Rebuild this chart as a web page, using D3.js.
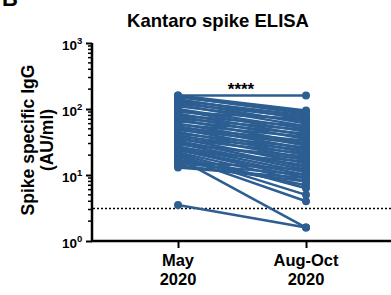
<!DOCTYPE html>
<html>
<head>
<meta charset="utf-8">
<script src="https://cdn.jsdelivr.net/npm/d3@7"></script>
<style>
  body { margin: 0; background: #fff; }
  text { font-family: "Liberation Sans", Arial, sans-serif; font-weight: bold; }
</style>
</head>
<body>
<div id="container"></div>
<script>
// time points on the x axis
var timepoints = ["May 2020", "Aug-Oct 2020"];
// paired samples, May value and Aug-Oct value (AU/ml)
var mayValues = [160, 160, 155, 150, 140, 135, 130, 120, 115, 110, 100, 95, 90, 85, 80, 78, 72, 70, 65, 60,
                 58, 55, 52, 50, 48, 45, 42, 40, 38, 36, 35, 33, 31, 30, 29, 27, 26, 25, 24, 23,
                 22, 21, 20, 19, 18, 17, 16, 15, 14, 13, 3.5];
var augValues = [160, 95, 85, 90, 70, 80, 60, 75, 55, 65, 50, 45, 70, 40, 55, 35, 48, 30, 42, 28,
                 38, 25, 33, 22, 30, 20, 26, 18, 24, 15, 21, 13, 17, 12, 19, 11, 14, 10, 9, 16,
                 8, 6.3, 5, 4, 1.6, 7, 12, 10, 8, 9, 1.6];
var yTicks = [1, 10, 100, 1000];
var cutoff = 3.1;

var width = 391, height = 295;
var blue = "#2c5e92";

var svg = d3.select("#container").append("svg")
    .attr("width", width)
    .attr("height", height);

//scales
var x = d3.scaleLinear().domain([-0.672, 1.664]).range([92, 391]);
var y = d3.scaleLog().domain([1, 1000]).range([241, 43]);

//panel letter and title
svg.append("text").attr("x", 2).attr("y", 6).style("font-size", "22px").text("B");
svg.append("text").attr("x", 218).attr("y", 27).attr("text-anchor", "middle")
    .style("font-size", "18.5px").text("Kantaro spike ELISA");

//y axis label
var yl = svg.append("text").attr("transform", "translate(34,140) rotate(-90)")
    .attr("text-anchor", "middle").style("font-size", "17.5px");
yl.append("tspan").attr("x", 0).attr("dy", 0).text("Spike specific IgG");
yl.append("tspan").attr("x", 0).attr("dy", 19).text("(AU/ml)");

//minor ticks on log axis
var minor = [];
for (var d = 1; d < 1000; d *= 10) {
    for (var k = 2; k <= 9; k++) minor.push(d * k);
}
svg.selectAll(".minor").data(minor).enter().append("line")
    .attr("class", "minor")
    .attr("x1", 88).attr("x2", 92)
    .attr("y1", function(d){ return y(d); })
    .attr("y2", function(d){ return y(d); })
    .attr("stroke", "#000").attr("stroke-width", 1.5);

//y axis
var yAxis = svg.append("g").attr("transform", "translate(92,0)")
    .call(d3.axisLeft(y).tickValues(yTicks).tickSize(6).tickFormat(""));
yAxis.select(".domain").attr("stroke-width", 2.5).attr("d", "M0," + y(1000) + "V" + (y(1) + 1));
yAxis.selectAll(".tick line").attr("stroke-width", 2);

svg.selectAll(".ylab").data(yTicks).enter().append("text")
    .attr("class", "ylab")
    .attr("x", 77).attr("y", function(d){ return y(d) + 7; })
    .attr("text-anchor", "end").style("font-size", "13.5px")
    .text("10");
svg.selectAll(".ysup").data(yTicks).enter().append("text")
    .attr("x", 77).attr("y", function(d){ return y(d) + 1; })
    .style("font-size", "9.5px")
    .text(function(d){ return Math.round(Math.log10(d)); });

//x axis
var xAxis = svg.append("g").attr("transform", "translate(0,241)")
    .call(d3.axisBottom(x).tickValues([0, 1]).tickSize(7).tickFormat(""));
xAxis.select(".domain").attr("stroke-width", 2.5).attr("d", "M91,0H391");
xAxis.selectAll(".tick line").attr("stroke-width", 2);

timepoints.forEach(function(t, i){
    var parts = t.split(" ");
    var lab = svg.append("text").attr("text-anchor", "middle").style("font-size", "16.5px");
    lab.append("tspan").attr("x", x(i)).attr("y", 266).text(parts[0]);
    lab.append("tspan").attr("x", x(i)).attr("y", 285).text(parts[1]);
});

//cutoff line
svg.append("line")
    .attr("x1", 93).attr("x2", 391)
    .attr("y1", y(cutoff)).attr("y2", y(cutoff))
    .attr("stroke", "#000").attr("stroke-width", 1.5)
    .attr("stroke-dasharray", "2,2");

//paired lines
var pairs = mayValues.map(function(v, i){ return [v, augValues[i]]; });
svg.selectAll(".pair").data(pairs).enter().append("line")
    .attr("class", "pair")
    .attr("x1", x(0)).attr("x2", x(1))
    .attr("y1", function(d){ return y(d[0]); })
    .attr("y2", function(d){ return y(d[1]); })
    .attr("stroke", blue).attr("stroke-width", 2.5);

[mayValues, augValues].forEach(function(vals, i){
    svg.selectAll(".pt" + i).data(vals).enter().append("circle")
        .attr("class", "pt" + i)
        .attr("cx", x(i))
        .attr("cy", function(d){ return y(d); })
        .attr("r", 4)
        .attr("fill", blue);
});

//significance stars
svg.append("text").attr("x", 241).attr("y", 95).attr("text-anchor", "middle")
    .style("font-size", "17px").text("****");
</script>
</body>
</html>
